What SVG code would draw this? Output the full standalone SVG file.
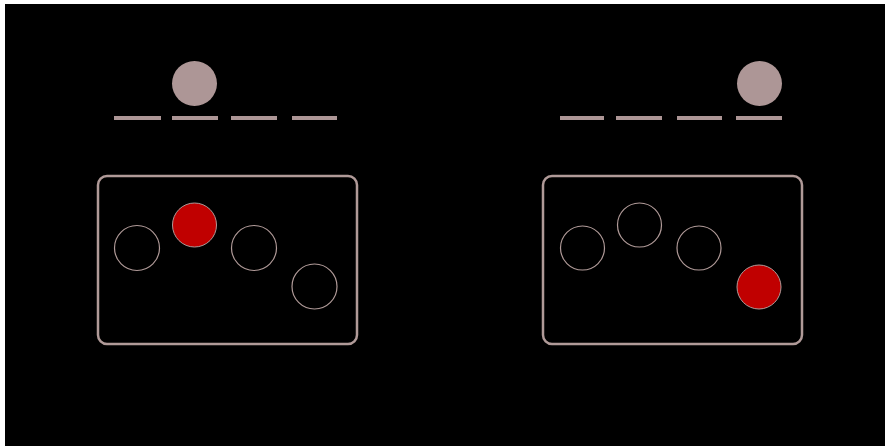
<svg xmlns="http://www.w3.org/2000/svg" width="885" height="447" viewBox="0 0 885 447">
<style>
.bg{fill:#000}
.ball{fill:#ad9696}
.dash{stroke:#ad9696;stroke-width:4;fill:none}
.box{fill:none;stroke:#b09a98;stroke-width:2.5}
.slot{fill:none;stroke:#b09a98;stroke-width:1.2}
.on{fill:#c00000;stroke:#b09a98;stroke-width:1}
</style>
<rect x="0" y="0" width="885" height="447" fill="#fff"/>
<rect class="bg" x="5" y="4" width="880" height="442"/>
<g id="left-top">
<circle class="ball" cx="194.5" cy="83.5" r="22.5"/>
<line class="dash" x1="114" y1="118" x2="161" y2="118"/>
<line class="dash" x1="172" y1="118" x2="218" y2="118"/>
<line class="dash" x1="231" y1="118" x2="277" y2="118"/>
<line class="dash" x1="292" y1="118" x2="337" y2="118"/>
</g>
<g id="left-box">
<rect class="box" x="98" y="176" width="259" height="168" rx="9"/>
<circle class="slot" cx="137" cy="248" r="22.5"/>
<circle class="on" cx="194.5" cy="225" r="22"/>
<circle class="slot" cx="254" cy="248" r="22.5"/>
<circle class="slot" cx="314.5" cy="286.5" r="22.5"/>
</g>
<g id="right-top">
<circle class="ball" cx="759.5" cy="83.5" r="22.5"/>
<line class="dash" x1="560" y1="118" x2="604" y2="118"/>
<line class="dash" x1="616" y1="118" x2="662" y2="118"/>
<line class="dash" x1="677" y1="118" x2="722" y2="118"/>
<line class="dash" x1="736" y1="118" x2="782" y2="118"/>
</g>
<g id="right-box">
<rect class="box" x="543" y="176" width="259" height="168" rx="9"/>
<circle class="slot" cx="582.5" cy="248" r="22"/>
<circle class="slot" cx="639.5" cy="225" r="22"/>
<circle class="slot" cx="699" cy="248" r="22"/>
<circle class="on" cx="759" cy="287" r="22"/>
</g>
<g id="connectors"/>
</svg>
